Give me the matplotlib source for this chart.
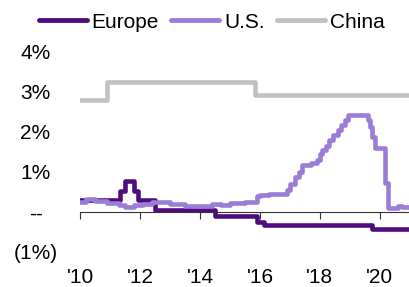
import matplotlib
matplotlib.use("Agg")
import matplotlib.pyplot as plt

plt.rcParams['font.family'] = ['Liberation Sans', 'DejaVu Sans']

# step series: (year, rate %)
china_x = [2010.0, 2010.89, 2015.83, 2021.0]
china_y = [2.80, 3.26, 2.92, 2.92]

europe_x = [2010.0, 2011.35, 2011.5, 2011.8, 2011.93, 2012.5, 2014.5, 2015.9, 2016.15, 2019.72, 2021.0]
europe_y = [0.30, 0.52, 0.77, 0.52, 0.30, 0.05, -0.10, -0.25, -0.33, -0.43, -0.43]

us_x = [2010.0, 2010.2, 2010.5, 2010.9, 2011.3, 2011.5, 2011.8, 2012.1, 2012.4, 2013.0,
        2013.5, 2014.4, 2014.7, 2015.0, 2015.5, 2015.9, 2016.0, 2016.3, 2016.9, 2017.0,
        2017.17, 2017.3, 2017.4, 2017.7, 2017.9, 2018.0, 2018.07, 2018.2, 2018.3, 2018.45,
        2018.6, 2018.7, 2018.85, 2018.93, 2019.6, 2019.67, 2019.75, 2019.85, 2020.17, 2020.27,
        2020.6, 2020.75, 2021.0]
us_y = [0.26, 0.33, 0.28, 0.22, 0.17, 0.13, 0.17, 0.20, 0.26, 0.20,
        0.16, 0.20, 0.18, 0.22, 0.25, 0.40, 0.42, 0.45, 0.55, 0.70,
        0.88, 1.00, 1.17, 1.22, 1.30, 1.45, 1.55, 1.65, 1.80, 1.93,
        2.05, 2.18, 2.30, 2.43, 2.30, 2.13, 1.88, 1.60, 0.72, 0.10,
        0.15, 0.12, 0.12]

yticks = [-1, 0, 1, 2, 3, 4]
ylabels = ['(1%)', '--', '1%', '2%', '3%', '4%']
xticks = [2010, 2012, 2014, 2016, 2018, 2020]
xlabels = ["'10", "'12", "'14", "'16", "'18", "'20"]

fs = 15

fig = plt.figure(figsize=(4.09, 2.87), dpi=100)
ax = fig.add_axes([0.1956, 0.122, 0.8044, 0.697])

lw = 3.3
ax.plot(europe_x, europe_y, drawstyle='steps-post', color='#4f0c7c', lw=lw, label='Europe')
ax.plot(us_x, us_y, drawstyle='steps-post', color='#9b7cd6', lw=lw, label='U.S.')
ax.plot(china_x, china_y, drawstyle='steps-post', color='#c0c0c0', lw=lw, label='China')

ax.set_xlim(2010, 2020.97)
ax.set_ylim(-1, 4)

for s in ['top', 'right', 'left']:
    ax.spines[s].set_visible(False)
ax.spines['bottom'].set_position(('data', 0))
ax.spines['bottom'].set_color('#333333')

ax.set_yticks(yticks)
ax.set_yticklabels(ylabels, fontsize=fs, ha='center')
ax.tick_params(axis='y', length=0, pad=32)

ax.set_xticks(xticks)
ax.set_xticklabels(xlabels, fontsize=fs)
ax.tick_params(axis='x', direction='out', length=5, color='#333333', pad=35)

leg = fig.legend(loc='center', bbox_to_anchor=(0.517, 0.923), ncol=3, frameon=False,
                 fontsize=fs, handlelength=2.3, handletextpad=0.24, columnspacing=0.58)
for h in leg.get_lines():
    h.set_solid_capstyle('round')
    h.set_linewidth(3.5)

fig.savefig('out.png', dpi=100)
